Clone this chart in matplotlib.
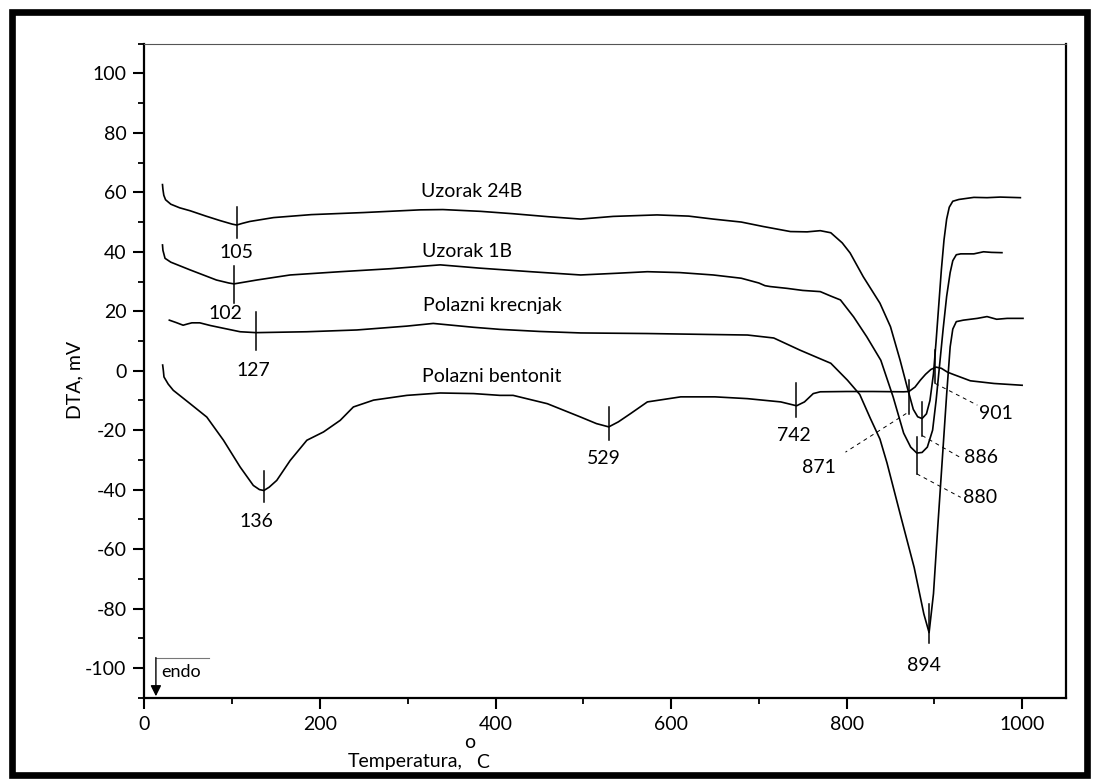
import matplotlib.pyplot as plt
from matplotlib.patches import Rectangle

plt.rcParams['font.family'] = ['Lato', 'DejaVu Sans']
plt.rcParams['axes.unicode_minus'] = False

# DTA curves, temperature in degC and signal in mV
temp_24b = [20.5, 21, 22, 24, 30, 40, 52, 70, 86, 100, 105, 112, 120, 147, 190, 250, 314, 340, 383,
            420, 460, 497, 534, 584, 620, 648, 680, 705, 736, 755, 770, 782, 795, 804, 819, 838, 850,
            861, 869, 876, 881, 886, 891, 895, 899, 902, 905, 908, 911, 914, 917, 921, 928, 945, 960,
            975, 998]
dta_24b = [62.6, 61, 59, 57.5, 56, 54.8, 53.8, 52, 50.5, 49.3, 49, 49.6, 50.2, 51.5, 52.5, 53.2, 54.1,
           54.2, 53.6, 52.8, 51.8, 51, 51.9, 52.4, 52, 51, 50, 48.5, 46.8, 46.7, 47.1, 46.4, 43, 39.6,
           31.6, 22.7, 14.8, 3.5, -5.5, -13, -15.5, -16.1, -14.5, -10, -1, 10, 22, 34, 44, 51, 55, 57,
           57.6, 58.3, 58.2, 58.4, 58.2]

temp_1b = [20.5, 21, 23.4, 30, 52, 82, 96, 102, 110, 128, 166, 223, 280, 337, 382, 440, 497, 540, 573,
           610, 648, 680, 700, 707, 713, 732, 750, 770, 782, 793, 808, 823, 839, 853, 865, 873, 880,
           886, 892, 898, 902, 906, 910, 914, 918, 921, 925, 930, 945, 956, 965, 977]
dta_1b = [42.3, 40.5, 37.8, 36.5, 33.9, 30.5, 29.5, 29.2, 29.6, 30.5, 32.2, 33.3, 34.3, 35.6, 34.5, 33.3,
          32.2, 32.8, 33.3, 33, 32.2, 31.1, 29.5, 28.6, 28.3, 27.7, 27, 26.6, 25.1, 23.8, 18.1, 11.4,
          3.5, -8.8, -21, -25.7, -27.7, -27.5, -25.7, -20, -10, 2, 14, 25, 33, 37, 39, 39.3, 39.3, 40,
          39.8, 39.7]

temp_krec = [28.3, 36, 44, 50, 54, 63, 75, 89.5, 109, 127, 185, 242, 299, 329, 375, 405, 450, 497, 573,
             640, 687, 717, 747, 770, 782, 801, 815, 827, 838, 846, 862, 877, 888, 894, 899, 904, 909,
             914, 918, 921, 925, 933, 949, 960, 971, 983, 1001]
dta_krec = [17, 16.2, 15.3, 15.8, 16.1, 16.1, 15.2, 14.3, 13.1, 12.8, 13.1, 13.7, 15, 15.9, 14.6, 13.9,
            13.2, 12.7, 12.5, 12.2, 12, 11, 6.9, 4, 2.5, -3.2, -8, -16, -23, -31, -49.3, -66.2, -81.8,
            -88.1, -75, -52, -30, -8, 8, 14, 16.5, 17, 17.6, 18.2, 17.3, 17.6, 17.6]

temp_bent = [20.7, 21.5, 22.2, 27, 32.8, 52, 71, 90, 109, 124, 131, 136, 142, 150.7, 166, 185, 204, 223,
             238, 261, 299, 337, 375, 405, 420, 459, 497, 515, 529, 540, 554, 573, 611, 650, 687, 725,
             743, 752, 762, 770, 800, 830, 865, 871, 878, 884, 890, 896, 902, 908, 915, 922, 941, 968,
             1000]
dta_bent = [1.9, 0, -2.1, -4.5, -6.6, -11.1, -15.6, -23.4, -32.4, -38.6, -40, -40.3, -39.2, -36.9,
            -30.2, -23.4, -20.6, -16.7, -12.2, -9.9, -8.3, -7.5, -7.7, -8.3, -8.3, -11.1, -15.6, -17.8,
            -18.9, -17.2, -14.4, -10.5, -8.8, -8.8, -9.4, -10.5, -11.8, -10.5, -7.7, -7.1, -7.0, -7.0,
            -7.1, -7.0, -5.5, -3.2, -1.2, 0.4, 1.2, 0.8, -0.5, -1.3, -3.4, -4.3, -4.9]

series_names = ['Uzorak 24B', 'Uzorak 1B', 'Polazni krecnjak', 'Polazni bentonit']

# peak temperatures marked on the curves
peak_temps = [105, 102, 127, 136, 529, 742, 871, 886, 880, 901, 894]

fig = plt.figure(figsize=(10.93, 7.8), dpi=100)
ax = fig.add_axes([0.1322, 0.1055, 0.8431, 0.8385])

for t, d in [(temp_24b, dta_24b), (temp_1b, dta_1b), (temp_krec, dta_krec), (temp_bent, dta_bent)]:
    ax.plot(t, d, color='black', lw=1.2)

# curve names
name_pos = [(373, 60.3), (368, 40.1), (397, 21.8), (396, -2.1)]
for name, (x, y) in zip(series_names, name_pos):
    ax.text(x, y, name, fontsize=14, ha='center', va='center')

# vertical marker span, label position, optional dashed leader
marker_spans = [(55.1, 44.7), (35.2, 22.9), (19.8, 6.9), (-33.6, -44.2), (-12.2, -23.4),
                (-4.2, -15.6), (-3.2, -14.7), (-10.5, -21.8), (-22.3, -34.7), (6.9, -4.3),
                (-78.5, -91.5)]
label_pos = [(105, 39.6), (92, 19.4), (124, 0.2), (128, -50.8), (523, -29.5), (739.5, -21.8),
             (768, -32.4), (952.6, -29.3), (952.6, -42.6), (970.6, -14.4), (888, -99.3)]
leaders = {871: ((868, -14.4), (798.7, -27.4)),
           886: ((886, -21.8), (932, -29.6)),
           880: ((880, -34.7), (930, -42.6)),
           901: ((901, -4.3), (949, -11.6))}

for t, (y0, y1), (lx, ly) in zip(peak_temps, marker_spans, label_pos):
    ax.plot([t, t], [y0, y1], color='black', lw=1.1)
    ax.text(lx, ly, str(t), fontsize=14, ha='center', va='center')
    if t in leaders:
        (xa, ya), (xb, yb) = leaders[t]
        ax.plot([xa, xb], [ya, yb], color='black', lw=0.7, ls=(0, (4, 4)))

# endo direction arrow
ax.plot([13, 73], [-96.5, -96.5], color='#777777', lw=0.8)
ax.annotate('', xy=(13, -109.5), xytext=(13, -96.5),
            arrowprops=dict(arrowstyle='-|>', color='black', lw=1.0, mutation_scale=16,
                            shrinkA=0, shrinkB=0))
ax.text(19.5, -101.5, 'endo', fontsize=13, ha='left', va='center')

ax.set_xlim(0, 1050)
ax.set_ylim(-110, 110)
ax.set_xticks(range(0, 1001, 200))
ax.set_xticks(range(100, 1001, 200), minor=True)
ax.set_yticks(range(-100, 101, 20))
ax.set_yticks(range(-110, 111, 20), minor=True)
ax.tick_params(which='major', direction='out', length=8, width=1.5, labelsize=14, pad=5)
ax.tick_params(which='minor', direction='out', length=4.5, width=1.3)
ax.tick_params(top=False, right=False)

for side in ['left', 'bottom', 'right']:
    ax.spines[side].set_linewidth(1.6)
ax.spines['top'].set_linewidth(0.8)
ax.spines['top'].set_color('#555555')

fig.text(75 / 1093, 1 - 380 / 780, 'DTA, mV', rotation=90, fontsize=14, ha='center', va='center')
fig.text(463 / 1093, 1 - 762 / 780, 'Temperatura,', fontsize=14, ha='right', va='center')
fig.text(470 / 1093, 1 - 743 / 780, 'o', fontsize=14, ha='center', va='center')
fig.text(476 / 1093, 1 - 762 / 780, 'C', fontsize=14, ha='left', va='center')

# thick frame round the whole figure
fig.add_artist(Rectangle((11.7 / 1093, 1 - 775 / 780), (1087 - 11.7) / 1093, (775 - 11.7) / 780,
                         transform=fig.transFigure, fill=False, lw=4.8, edgecolor='black'))

fig.savefig('out.png', dpi=100)
